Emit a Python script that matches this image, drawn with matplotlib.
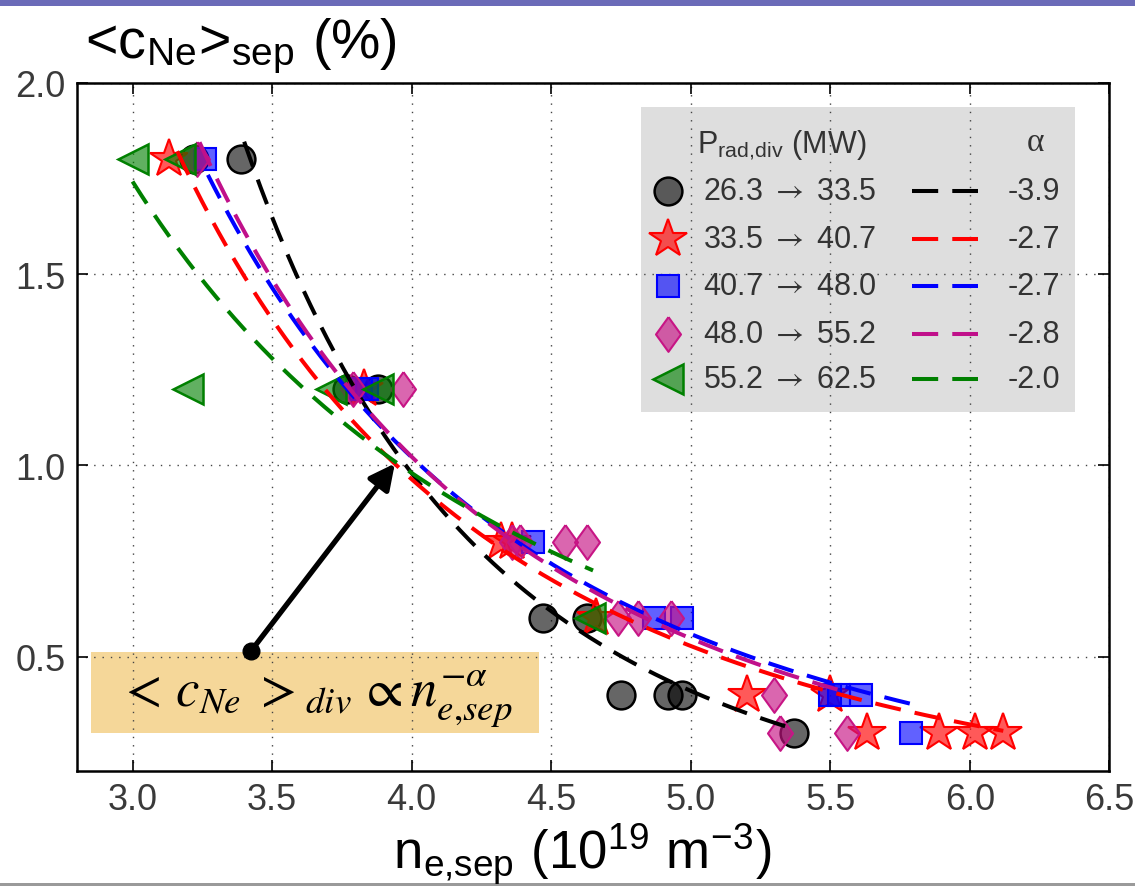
import matplotlib
matplotlib.use('Agg')
import matplotlib.pyplot as plt
from matplotlib.patches import Rectangle
import numpy as np

# ---------------- data ----------------
circ_x = [3.22, 3.39, 3.77, 3.88, 4.47, 4.63, 4.75, 4.92, 4.97, 5.37]
circ_y = [1.8, 1.8, 1.2, 1.2, 0.6, 0.6, 0.4, 0.4, 0.4, 0.3]

star_x = [3.13, 3.83, 4.32, 4.36, 4.66, 5.20, 5.50, 5.63, 5.89, 6.02, 6.12]
star_y = [1.8, 1.2, 0.8, 0.8, 0.6, 0.4, 0.4, 0.3, 0.3, 0.3, 0.3]

sq_x = [3.26, 3.82, 3.84, 4.435, 4.87, 4.97, 5.50, 5.53, 5.61, 5.79]
sq_y = [1.8, 1.2, 1.2, 0.8, 0.6, 0.6, 0.4, 0.4, 0.4, 0.3]

dia_x = [3.23, 3.79, 3.97, 4.36, 4.39, 4.55, 4.63, 4.74, 4.81, 4.93, 5.30, 5.32, 5.56]
dia_y = [1.8, 1.2, 1.2, 0.8, 0.8, 0.8, 0.8, 0.6, 0.6, 0.6, 0.4, 0.3, 0.3]

tri_x = [3.00, 3.17, 3.20, 3.71, 3.88, 4.64]
tri_y = [1.8, 1.8, 1.2, 1.2, 1.2, 0.6]

range_labels = [r'26.3 $\rightarrow$ 33.5', r'33.5 $\rightarrow$ 40.7', r'40.7 $\rightarrow$ 48.0',
                r'48.0 $\rightarrow$ 55.2', r'55.2 $\rightarrow$ 62.5']
alpha_labels = ['-3.9', '-2.7', '-2.7', '-2.8', '-2.0']

# power-law fits  c = c_ref * (n / n_ref)^(-alpha)
fit_alpha = [3.9, 2.7, 2.7, 2.8, 2.0]
fit_n_ref = [3.92, 3.946, 4.054, 4.054, 3.96]
fit_c_ref = [1.06, 1.00, 0.985, 0.985, 1.00]
fit_n_start = [3.40, 3.16, 3.27, 3.24, 3.00]
fit_n_end = [5.37, 6.12, 5.79, 5.56, 4.65]

x_ticks = [3.0, 3.5, 4.0, 4.5, 5.0, 5.5, 6.0, 6.5]
y_ticks = [0.5, 1.0, 1.5, 2.0]

# ---------------- style ----------------
plt.rcParams['font.family'] = ['Liberation Sans', 'DejaVu Sans']
plt.rcParams['mathtext.fontset'] = 'stix'

dia_verts = [(0, 1), (0.72, 0), (0, -1), (-0.72, 0), (0, 1)]
styles = [
    dict(marker='o', ms=20, mfc=(0, 0, 0, 0.6), mec='black', mew=1.8),
    dict(marker='*', ms=29, mfc=(1, 0, 0, 0.65), mec='red', mew=1.5),
    dict(marker='s', ms=16.5, mfc=(0, 0, 1, 0.62), mec='blue', mew=1.5),
    dict(marker=dia_verts, ms=25, mfc=(0.78, 0.08, 0.52, 0.65), mec='#c71585', mew=1.5),
    dict(marker='<', ms=21, mfc=(0, 0.5, 0, 0.62), mec='green', mew=1.8),
]
line_colors = ['black', 'red', 'blue', '#c0108a', 'green']
series = [(circ_x, circ_y), (star_x, star_y), (sq_x, sq_y), (dia_x, dia_y), (tri_x, tri_y)]

fig = plt.figure(figsize=(11.35, 8.87), dpi=100)
ax = fig.add_axes([0.0676, 0.1293, 0.9098, 0.7760])

for (xs, ys), st in zip(series, styles):
    ax.plot(xs, ys, linestyle='none', zorder=2, **st)

for a, nr, cr, n0, n1, col in zip(fit_alpha, fit_n_ref, fit_c_ref, fit_n_start, fit_n_end, line_colors):
    n = np.linspace(n0, n1, 200)
    ax.plot(n, cr * (n / nr) ** (-a), color=col, lw=2.9, dashes=(6.5, 3.5), zorder=3)

ax.set_xlim(2.8, 6.5)
ax.set_ylim(0.2, 2.0)
ax.set_xticks(x_ticks)
ax.set_xticklabels(['%.1f' % v for v in x_ticks])
ax.set_yticks(y_ticks)
ax.set_yticklabels(['%.1f' % v for v in y_ticks])
ax.tick_params(direction='in', length=8, width=1.2, top=True, right=True,
               labelsize=26, labelcolor='#3a3a3a', pad=8)
ax.grid(True, linestyle=(0, (1, 5)), color='#444444', lw=1.0)
for sp in ax.spines.values():
    sp.set_linewidth(1.8)

# annotation box
ax.add_patch(Rectangle((2.85, 0.30), 1.605, 0.213, facecolor='#f5d799',
                       edgecolor='none', zorder=1))
ax.text(3.655, 0.393, r'$<\,c_{Ne}\;>_{div}\,\propto n_{e{,}sep}^{-\alpha}$', fontsize=38,
        ha='center', va='center', zorder=4)
ax.annotate('', xy=(3.94, 1.005), xytext=(3.425, 0.515),
            arrowprops=dict(arrowstyle='-|>', lw=3.8, color='black', mutation_scale=38,
                            shrinkA=0, shrinkB=0), zorder=5)
ax.plot([3.425], [0.515], 'o', color='black', ms=12, zorder=5)

# legend box (manual)
T = ax.transAxes
ax.add_patch(Rectangle((0.5466, 0.5217), 0.4202, 0.4433, transform=T,
                       facecolor='#dedede', edgecolor='none', zorder=1))
ax.text(0.6007, 0.912, r'P$_{\mathregular{rad{,}div}}$ (MW)', transform=T, fontsize=22,
        color='#333333', va='center', ha='left', zorder=6)
ax.text(0.928, 0.915, '\u03b1', transform=T, fontsize=24, family='Liberation Serif',
        color='#333333', va='center', ha='center', zorder=6)
row_y = [0.8430, 0.7733, 0.7050, 0.6352, 0.5701]
for ry, st, col, lab, al in zip(row_y, styles, line_colors, range_labels, alpha_labels):
    ax.plot([0.5726], [ry], transform=T, linestyle='none', clip_on=False, zorder=6, **st)
    ax.text(0.6065, ry, lab, transform=T, fontsize=22, color='#333333',
            va='center', ha='left', zorder=6)
    ax.plot([0.809, 0.8729], [ry, ry], transform=T, color=col, lw=2.9,
            dashes=(6.5, 3.5), zorder=6)
    ax.text(0.9523, ry, al, transform=T, fontsize=22, color='#333333',
            va='center', ha='right', zorder=6)

# axis labels
fig.text(85 / 1135, 1 - 59 / 887, r'<c$_{\mathregular{Ne}}$>$_{\mathregular{sep}}$ (%)',
         fontsize=40, va='baseline', ha='left', color='black')
fig.text(393 / 1135, 1 - 870 / 887, r'n$_{\mathregular{e{,}sep}}$ (10$^{\mathregular{19}}$ m$^{\mathregular{-3}}$)',
         fontsize=38, va='baseline', ha='left', color='black')

# slide decorations
fig.patches.append(Rectangle((0, 1 - 7 / 887), 1, 7 / 887, transform=fig.transFigure,
                             facecolor='#6b6bb8', edgecolor='none'))
fig.patches.append(Rectangle((0, 0), 1, 3 / 887, transform=fig.transFigure,
                             facecolor='#9a9a9a', edgecolor='none'))

fig.savefig('out.png', dpi=100)
